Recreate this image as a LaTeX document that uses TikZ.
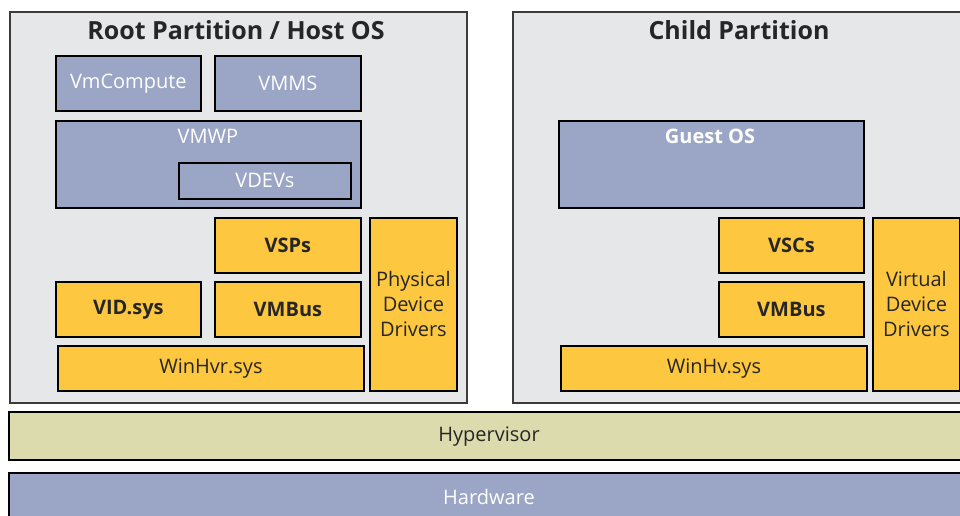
\documentclass[tikz,border=0pt]{standalone}
\usepackage{fontspec}
\setmainfont{Open Sans}
\definecolor{partfill}{HTML}{E6E7E9}
\definecolor{partline}{HTML}{3C3C3C}
\definecolor{bluefill}{HTML}{9BA6C6}
\definecolor{yellowfill}{HTML}{FDC73F}
\definecolor{hypfill}{HTML}{DCDBAE}
\definecolor{darktext}{HTML}{262626}
\tikzset{
  part/.style={draw=partline, fill=partfill, line width=2pt, anchor=north west, inner sep=0pt},
  bluebox/.style={draw=black, fill=bluefill, line width=1.8pt, anchor=north west, inner sep=0pt, text=white, font=\fontsize{20}{24}\selectfont},
  yelbox/.style={draw=black, fill=yellowfill, line width=1.8pt, anchor=north west, inner sep=0pt, text=darktext, font=\fontsize{20}{24}\selectfont},
  boldyel/.style={yelbox, font=\fontsize{20}{24}\selectfont\bfseries},
  tallbox/.style={yelbox, align=center, font=\fontsize{20}{25}\selectfont},
  wide/.style={draw=black, line width=2.2pt, anchor=north west, inner sep=0pt},
  title/.style={text=darktext, font=\fontsize{25}{30}\selectfont\bfseries},
  lbl/.style={text=white, font=\fontsize{20}{24}\selectfont},
}
\begin{document}
\begin{tikzpicture}[x=1pt,y=-1pt]
\useasboundingbox (0,0) rectangle (960,516);
\fill[white] (0,0) rectangle (960,516);
% partitions
\node[part, minimum width=457pt, minimum height=391pt] (root) at (9,11) {};
\node[part, minimum width=470pt, minimum height=391pt] (child) at (512,11) {};
\node[title] (roottitle) at (236,30) {Root Partition / Host OS};
\node[title] (childtitle) at (739,30) {Child Partition};
% root partition
\node[bluebox, minimum width=145pt, minimum height=55pt] (vmc) at (55,55) {VmCompute};
\node[bluebox, minimum width=146pt, minimum height=55pt] (vmms) at (214,55) {VMMS};
\node[bluebox, minimum width=305pt, minimum height=87pt] (vmwp) at (55,120) {};
\node[lbl] (vmwplbl) at (208,136) {VMWP};
\node[bluebox, minimum width=172pt, minimum height=36pt] (vdevs) at (178,162) {VDEVs};
\node[boldyel, minimum width=146pt, minimum height=55pt] (vsps) at (214,217) {VSPs};
\node[tallbox, minimum width=87pt, minimum height=173pt] (pdd) at (369,217) {Physical\\Device\\Drivers};
\node[boldyel, minimum width=145pt, minimum height=55pt] (vid) at (55,281) {VID.sys};
\node[boldyel, minimum width=146pt, minimum height=55pt] (vmbusr) at (214,281) {VMBus};
\node[yelbox, minimum width=306pt, minimum height=45pt] (winhvr) at (57,345) {WinHvr.sys};
% child partition
\node[bluebox, minimum width=305pt, minimum height=87pt] (guest) at (558,120) {};
\node[lbl, font=\fontsize{20}{24}\selectfont\bfseries] (guestlbl) at (710,136) {Guest OS};
\node[boldyel, minimum width=145pt, minimum height=55pt] (vscs) at (718,217) {VSCs};
\node[boldyel, minimum width=145pt, minimum height=55pt] (vmbusc) at (718,281) {VMBus};
\node[yelbox, minimum width=306pt, minimum height=45pt] (winhv) at (560,345) {WinHv.sys};
\node[tallbox, minimum width=87pt, minimum height=173pt] (vdd) at (872,217) {Virtual\\Device\\Drivers};
% layers
\node[wide, fill=hypfill, minimum width=968pt, minimum height=48pt] (hyp) at (8,411) {};
\node[text=darktext, font=\fontsize{20}{24}\selectfont] (hyplbl) at (489,437) {Hypervisor};
\node[wide, fill=bluefill, minimum width=968pt, minimum height=60pt] (hw) at (8,472) {};
\node[lbl] (hwlbl) at (489,497) {Hardware};
\end{tikzpicture}
\end{document}
